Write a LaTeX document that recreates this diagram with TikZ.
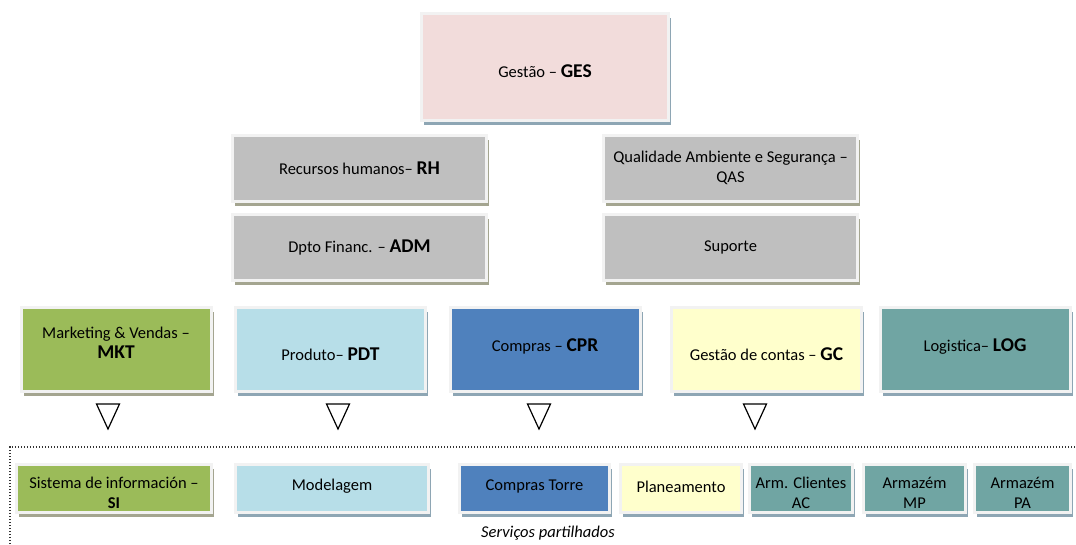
\documentclass[tikz,border=0pt]{standalone}
\usepackage{fontspec}
\setmainfont{Carlito}
\usetikzlibrary{shadows}
\definecolor{moldura}{HTML}{F2F2F2}
\definecolor{rosa}{HTML}{F2DCDB}
\definecolor{cinza}{HTML}{BFBFBF}
\definecolor{verde}{HTML}{9BBB59}
\definecolor{azulc}{HTML}{B7DEE8}
\definecolor{azul}{HTML}{4F81BD}
\definecolor{amarelo}{HTML}{FFFFCC}
\definecolor{teal}{HTML}{70A5A3}
\definecolor{sombraa}{HTML}{8EA6B4}
\definecolor{sombrab}{HTML}{A4A590}
\newcommand{\sig}[1]{{\fontsize{19.5}{20}\selectfont\bfseries #1}}
% desloca o texto sem mudar a caixa
\newcommand{\sobe}[2]{\raisebox{#1}[\height][\depth]{#2}}
\newcommand{\duas}[2]{\begin{tabular}{@{}c@{}}#1\\#2\end{tabular}}
\tikzset{%
    cx/.style={rectangle, draw=moldura, line width=3pt, inner sep=2pt, align=center,
        font=\fontsize{16.5}{20.5}\selectfont, text=black},
    sa/.style={drop shadow={shadow xshift=2.5pt, shadow yshift=-4.5pt, opacity=1, fill=sombraa}},
    sb/.style={drop shadow={shadow xshift=2.5pt, shadow yshift=-4.5pt, opacity=1, fill=sombrab}},
    nv2/.style={cx, sb, fill=cinza, minimum width=254pt, minimum height=66pt},
    nv3/.style={cx, minimum width=190pt, minimum height=84pt},
    nv4/.style={cx, minimum height=48pt},
    tri/.style={line width=1.2pt},
    pont/.style={line width=1.3pt, black!80, dash pattern=on 1.3pt off 1.7pt},
}
\begin{document}
\begin{tikzpicture}[x=1pt,y=-1pt]
    \useasboundingbox (0,0) rectangle (1076,544);
    % topo
    \node[cx, sa, fill=rosa, minimum width=247pt, minimum height=107pt] (ges) at (545,67) {\sobe{-4pt}{Gestão – \sig{GES}}};
    % segundo nivel
    \node[nv2] (rh) at (359.5,168) {Recursos humanos– \sig{RH}};
    \node[nv2] (adm) at (359.5,247.5) {Dpto Financ. – \sig{ADM}};
    \node[nv2] (qas) at (730.5,168) {Qualidade Ambiente e Segurança –\\QAS};
    \node[nv2] (sup) at (730.5,247.5) {Suporte};
    % departamentos
    \node[nv3, sb, fill=verde] (mkt) at (116,349.5) {\sobe{5pt}{\duas{Marketing \& Vendas –}{\sig{MKT}}}};
    \node[nv3, sa, fill=azulc] (pdt) at (330.5,349.5) {\sobe{-5pt}{Produto– \sig{PDT}}};
    \node[nv3, sa, fill=azul] (cpr) at (545,349.5) {\sobe{3pt}{Compras – \sig{CPR}}};
    \node[nv3, sa, fill=amarelo] (gc) at (766.5,349.5) {\sobe{-5pt}{Gestão de contas – \sig{GC}}};
    \node[nv3, sa, fill=teal] (log) at (975,349.5) {\sobe{3pt}{Logistica– \sig{LOG}}};
    % triangulos
    \foreach \x in {108,338,539,755}
        \draw[tri] (\x-11.5,404) -- ++(23,0) -- ++(-11.5,25) -- cycle;
    % servicos partilhados
    \coordinate (spa) at (10,544);
    \coordinate (spb) at (1076,447);
    \draw[pont] (spa) |- (spb);
    \node[nv4, sb, fill=verde, minimum width=195pt] (si) at (114,488.5) {\sobe{-6pt}{\duas{Sistema de información –}{\textbf{SI}}}};
    \node[nv4, sa, fill=azulc, minimum width=193pt] (mod) at (332,488.5) {\sobe{2pt}{Modelagem}};
    \node[nv4, sa, fill=azul, minimum width=150pt] (ct) at (534.5,488.5) {\sobe{2pt}{Compras Torre}};
    \node[nv4, sa, fill=amarelo, minimum width=121pt] (pla) at (681,488.5) {\sobe{2pt}{Planeamento}};
    \node[nv4, sa, fill=teal, minimum width=103pt] (ac) at (801,488.5) {\sobe{-6pt}{\duas{Arm. Clientes}{AC}}};
    \node[nv4, sa, fill=teal, minimum width=102pt] (mp) at (914.5,488.5) {\sobe{-6pt}{\duas{Armazém}{MP}}};
    \node[nv4, sa, fill=teal, minimum width=96pt] (pa) at (1022.5,488.5) {\sobe{-6pt}{\duas{Armazém}{PA}}};
    \node[font=\fontsize{16.5}{18}\selectfont\itshape] (spt) at (548,533) {Serviços partilhados};
\end{tikzpicture}
\end{document}
